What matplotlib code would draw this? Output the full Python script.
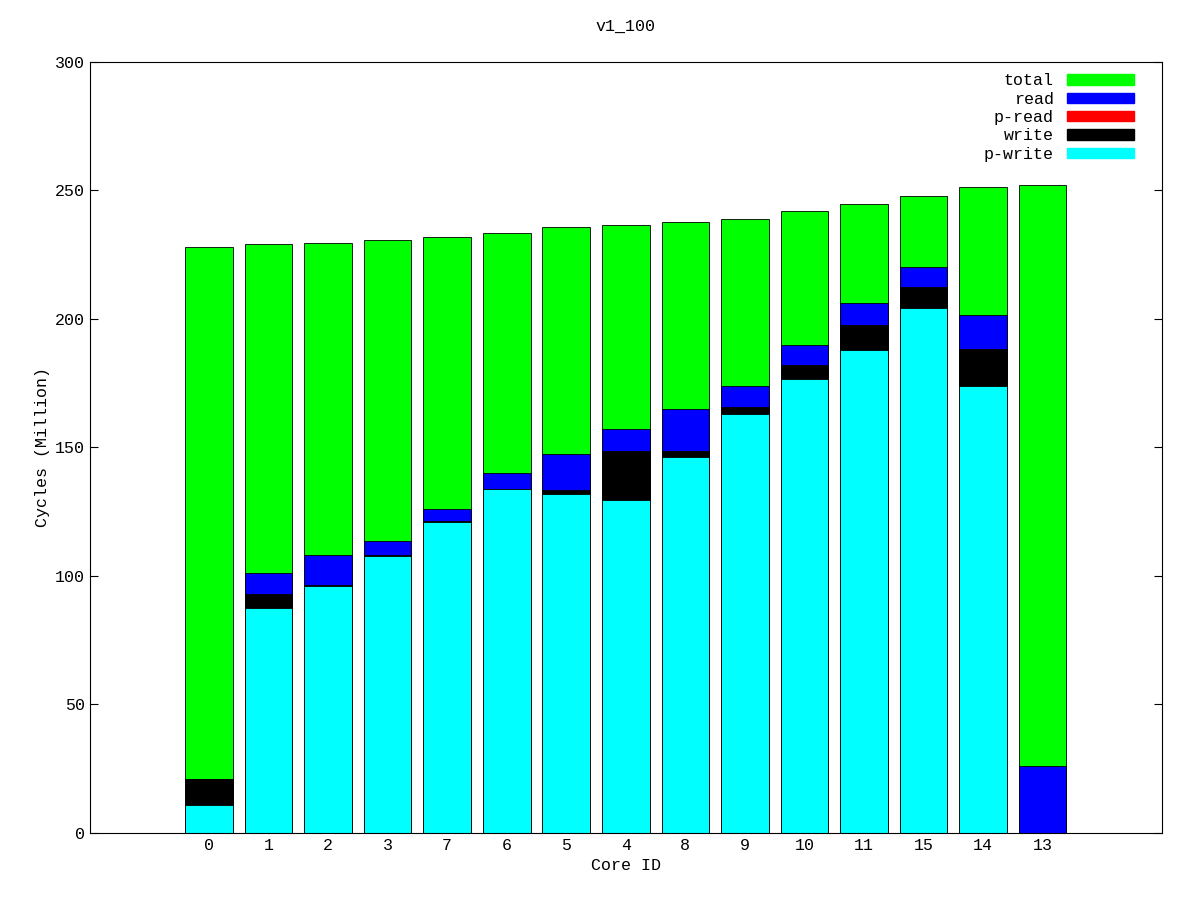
import matplotlib
matplotlib.use("Agg")
import matplotlib.pyplot as plt
from matplotlib.patches import Patch

cores = ["0","1","2","3","7","6","5","4","8","9","10","11","15","14","13"]
total  = [228,229,229.6,230.7,232,233.5,235.8,236.6,237.7,239,242,244.7,247.9,251.4,252]
read   = [21,101,108,113.6,126,140,147.5,157,165,174,190,206,220,201.5,26]
pread  = [0]*15
write  = [21,93,96.5,108,121.5,134,133.5,148.6,148.6,165.8,182,197.7,212.5,188.3,0]
pwrite = [11,87.5,96,107.8,121,134,132,129.6,146.3,163,176.7,188,204.3,174,0]

plt.rcParams['font.family'] = ['Liberation Mono', 'DejaVu Sans Mono']
fig = plt.figure(figsize=(12, 9), dpi=100)
ax = fig.add_axes([0.075, 0.0744, 0.893, 0.857])
x = list(range(len(cores)))
series = [(total, '#00ff00', 'total'), (read, '#0000ff', 'read'), (pread, '#ff0000', 'p-read'),
          (write, '#000000', 'write'), (pwrite, '#00ffff', 'p-write')]
for vals, c, lab in series:
    ax.bar(x, vals, width=0.8, color=c, edgecolor='black', linewidth=0.6)
ax.set_xlim(-2, 16)
ax.set_ylim(0, 300)
ax.set_xticks(x)
ax.set_xticklabels(cores)
ax.set_yticks(range(0, 301, 50))
ax.tick_params(direction='in', top=False, right=True, labelsize=12, length=6)
ax.tick_params(axis='x', length=0)
ax.set_xlabel("Core ID", fontsize=12)
ax.set_ylabel("Cycles (Million)", fontsize=12)
ax.set_title("v1_100", fontsize=12, pad=22)
handles = [Patch(facecolor=c, edgecolor=c, label=l) for _, c, l in series]
ax.legend(handles=handles, loc='upper right', frameon=False, markerfirst=False,
          fontsize=12, handlelength=4, handleheight=0.6, labelspacing=0.2,
          borderaxespad=0.3, bbox_to_anchor=(0.985, 1.0))
fig.savefig("out.png")
